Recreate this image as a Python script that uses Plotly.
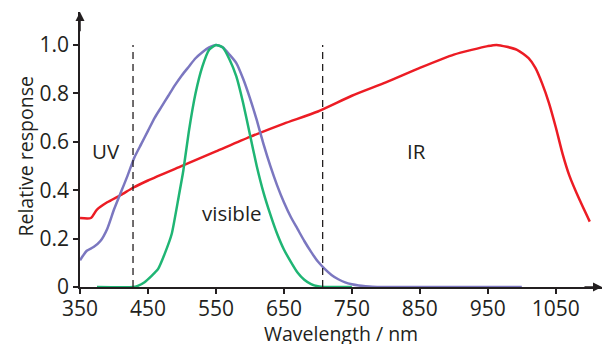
import plotly.graph_objects as go

# ---- data ----
red_x = [350, 366, 375, 390, 410, 428, 450, 500, 550, 600, 650, 700, 750, 800, 850, 900, 950, 963, 993, 1010, 1020, 1030, 1040, 1050, 1060, 1070, 1085, 1100]
red_y = [0.285, 0.285, 0.32, 0.35, 0.38, 0.41, 0.44, 0.50, 0.56, 0.62, 0.675, 0.725, 0.79, 0.845, 0.905, 0.96, 0.995, 1.0, 0.98, 0.945, 0.905, 0.84, 0.76, 0.66, 0.55, 0.46, 0.36, 0.27]

purple_x = [350, 360, 370, 380, 390, 400, 410, 420, 430, 440, 450, 460, 470, 480, 490, 500, 510, 520, 530, 540, 550, 560, 570, 580, 590, 600, 610, 620, 630, 640, 650, 660, 670, 680, 690, 700, 710, 720, 730, 740, 750, 760, 770, 780, 800, 1000]
purple_y = [0.11, 0.15, 0.165, 0.19, 0.24, 0.32, 0.39, 0.46, 0.535, 0.59, 0.645, 0.70, 0.745, 0.79, 0.835, 0.875, 0.91, 0.945, 0.97, 0.99, 1.0, 0.99, 0.96, 0.925, 0.86, 0.78, 0.69, 0.59, 0.50, 0.42, 0.35, 0.29, 0.24, 0.19, 0.145, 0.105, 0.075, 0.05, 0.032, 0.019, 0.011, 0.006, 0.003, 0.001, 0.0, 0.0]

green_x = [375, 428, 435, 445, 455, 465, 475, 485, 495, 502, 510, 520, 530, 540, 550, 560, 570, 580, 590, 600, 610, 620, 630, 640, 650, 660, 670, 680, 690, 700, 710, 750]
green_y = [0.0, 0.0, 0.005, 0.02, 0.045, 0.075, 0.14, 0.22, 0.37, 0.48, 0.64, 0.80, 0.91, 0.98, 1.0, 0.99, 0.94, 0.87, 0.76, 0.63, 0.50, 0.39, 0.30, 0.22, 0.155, 0.105, 0.06, 0.03, 0.012, 0.003, 0.0, 0.0]

region_bounds = [428, 707]
region_labels = ["UV", "visible", "IR"]
region_label_x = [388, 573, 845]
region_label_y = [0.56, 0.305, 0.56]

x_ticks = [350, 450, 550, 650, 750, 850, 950, 1050]
y_ticks = [0, 0.2, 0.4, 0.6, 0.8, 1.0]
y_ticktext = ["0", "0.2", "0.4", "0.6", "0.8", "1.0"]

INK = "#231f20"
FONT = "Open Sans"
FS_TICK = 21
FS_TITLE = 19.5
FS_LABEL = 20.5

fig = go.Figure()
fig.add_trace(go.Scatter(x=red_x, y=red_y, mode="lines", line=dict(color="#ec1c24", width=2.5, shape="spline", smoothing=0.6)))
fig.add_trace(go.Scatter(x=purple_x, y=purple_y, mode="lines", line=dict(color="#7b77c0", width=2.5, shape="spline", smoothing=0.6)))
fig.add_trace(go.Scatter(x=green_x, y=green_y, mode="lines", line=dict(color="#1fb574", width=2.5, shape="spline", smoothing=0.5)))

for b in region_bounds:
    fig.add_trace(go.Scatter(x=[b, b], y=[0, 1.0], mode="lines",
                             line=dict(color=INK, width=1.3, dash="7px,5px")))

for t, x, y in zip(region_labels, region_label_x, region_label_y):
    fig.add_annotation(x=x, y=y, text=t, showarrow=False, font=dict(family=FONT, size=FS_LABEL, color=INK))

# axis arrows
fig.add_annotation(x=1118, y=0, ax=1090, ay=0, xref="x", yref="y", axref="x", ayref="y",
                   showarrow=True, arrowhead=2, arrowsize=1.2, arrowwidth=1.5, arrowcolor=INK, text="")
fig.add_annotation(x=350, y=1.136, ax=350, ay=1.05, xref="x", yref="y", axref="x", ayref="y",
                   showarrow=True, arrowhead=2, arrowsize=1.2, arrowwidth=1.5, arrowcolor=INK, text="")

# axis titles
fig.add_annotation(x=0.5, y=-0.169, xref="paper", yref="paper", text="Wavelength / nm", showarrow=False,
                   font=dict(family=FONT, size=FS_TITLE, color=INK), yanchor="middle")
fig.add_annotation(x=-0.105, y=0.475, xref="paper", yref="paper", text="Relative response", showarrow=False,
                   font=dict(family=FONT, size=FS_TITLE, color=INK), textangle=-90, xanchor="center", yanchor="middle")

fig.update_layout(
    width=609, height=344,
    margin=dict(l=80, r=7, t=12, b=57, autoexpand=False),
    paper_bgcolor="white", plot_bgcolor="white",
    showlegend=False,
    font=dict(family=FONT, size=FS_TICK, color=INK),
)
fig.update_xaxes(range=[350, 1118], tickvals=x_ticks, showline=True, linecolor=INK, linewidth=1.5,
                 ticks="outside", ticklen=5, tickcolor=INK, tickwidth=1.5, showgrid=False, zeroline=False,
                 tickfont=dict(family=FONT, size=FS_TICK, color=INK), automargin=False, ticklabelstandoff=-3)
fig.update_yaxes(range=[0, 1.136], tickvals=y_ticks, ticktext=y_ticktext, showline=True, linecolor=INK, linewidth=1.5,
                 ticks="outside", ticklen=5, tickcolor=INK, tickwidth=1.5, showgrid=False, zeroline=False,
                 tickfont=dict(family=FONT, size=FS_TICK, color=INK), automargin=False)

fig.write_html("out.html", post_script="document.body.style.margin='0';", config={"displayModeBar": False})
